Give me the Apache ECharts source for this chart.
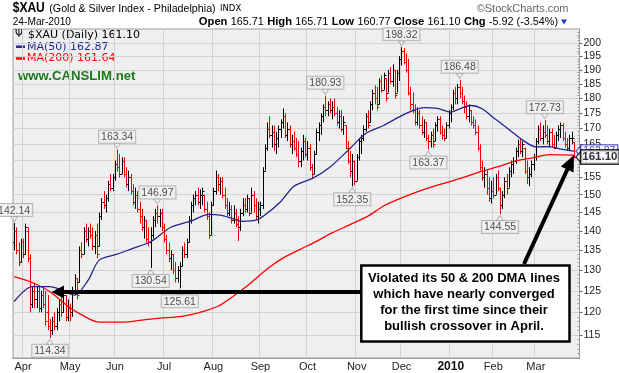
<!DOCTYPE html>
<html><head><meta charset="utf-8">
<script src="https://cdn.jsdelivr.net/npm/echarts@6/dist/echarts.min.js"></script>
<style>html,body{margin:0;padding:0;background:#fff}#c{width:619px;height:373px}</style>
</head><body><div id="c"></div>
<script>
// ---- data ----
const opens = [
137,140,135,132,137,134,140,133,122,125,
123,125,121,124,122,120,117,116,118,117,
120,122,120,124,119,121,120,125,128,127,
135,134,140,138,140,139,136,139,136,144,
148,147,149,153,152,155,159,158,156,160,
156,153,155,151,148,150,146,144,141,143,
138,137,139,143,145,144,145,141,138,135,
133,134,130,128,130,131,135,134,137,143,
147,149,150,148,150,150,146,144,139,147,
151,155,153,154,150,147,145,146,143,145,
142,141,145,147,146,149,145,150,147,144,
146,147,157,164,170,168,169,165,167,170,
172,174,168,170,165,166,164,162,160,163,
166,162,164,158,156,162,169,171,174,177,
176,178,176,177,175,172,174,170,171,164,
160,157,160,154,161,166,167,170,174,172,
178,182,180,178,186,183,187,182,189,186,
190,182,189,194,197,193,190,182,178,176,
172,175,171,169,172,167,166,168,166,171,
173,169,168,167,171,175,177,182,180,184,
182,179,177,174,176,172,171,169,164,158,
155,156,152,149,151,150,155,152,147,150,
154,152,157,159,160,163,165,163,164,157,
155,156,159,161,166,170,167,169,168,166,
169,165,164,168,170,171,167,165,164,167,
165.71];
const highs = [
142.14,141,137,138,138,142,141,134,126,127,
126,126,125,126,125,124,118.5,119,120,121,
123,124,125,124,123,122,126,129,128,136,
137,141,142,141,142,141,140,142,145,149,
151,150,154,156,156,160,163.34,162,161,161,
158,157,156,153,152,151,148,146,144,143,
141,141,144,146,146.97,146,146,142,139,137,
135,134,132,131,132,136,137,138,144,148,
150,151,152,151.5,152,150,148,145,148,152,
157,156,155,155,152,149,148,147,147,146,
144,146,149,149,150,149,152,151,149,148,
148,158,165,172,174,171,171,169,171,173,
176.6,175,172,171,168,169,167,166,164,168,
167,166,165,159,163,170,172,175,178,180.93,
179,180,179,180,177,176,176,174,171,166,
163,162,160,162,167,168,171,175,176,179,
183,184.5,184,187,188,189,187,190,191,192,
190,190,195,198.32,198,196,194,184,182,178,
177,176,174,173,172,168,169,170,172,174,
174,171,170,172,176,178,183,184,185,186.48,
184,181,179,178,176,174,173,171,165,160,
158,157,155,154,155,156,157,152,151,155,
156,158,160,161,164,166.5,167,166,164,160,
158,160,162,167,171,172,171,172.73,171,170,
170,168,169,171,172,171.8,169,167,168,169,
165.71];
const lows = [
135,134,131,132,133,134,132,120,121,121,
121,120,120,121,117,116,114.34,115,116,116,
118,119,120,118,118,118,119,124,123,127,
133,134,137,136,138,135,134,133,136,143,
146,145,148,151,151,154,156.7,155,156,155,
152,151,150,147,146,145,142,140,138,137,
136,130.54,138,141,142,141,140,137,134,132,
130,129,127,127,125.61,131,133,133,137,142,
145,147,147,146,147,145,143,138,139,147,
150,151,150,149,146,144,144,142,142,141,
137.4,140,144,145,145,144,145,145,143,142,
144,146,157,163,167,164,163,162,164,167,
170,167,166,164,162,163,161,158,158,160,
161,160,157,154.6,156,162,166,168,172,174,
174,175,173,174,171,170,169,168,163.5,159,
155,152.35,152.7,154,160,162,166,169,170,172,
176,178,176,178,182,183,179,182,185,184,
180,182,186,191.6,192,189,181,176,175,171,
171,170,168,167,166,163.37,164,164,166,169,
168,166.5,166,167,170,172,176,178,178,180,
178,175,173,172,171,170,168,163,157,154,
152,150,148,147.5,149,150,151,144.55,146,149,
150,152,155,156,159,161,162,161,156,153,
152.4,155,157,160,165,166,165,167,165,164,
164,163.5,164,166,167,166,164,163,163,165,
160.77];
const closes = [
140,135,132,137,134,141,133,122,125,123,
125,121,124,122,118,117,116,118,117,120,
122,120,124,119,121,120,125,128,124,135,
134,140,138,140,139,136,139,134,144,148,
147,149,153,152,155,159,158,156,160,156,
153,155,151,148,150,146,144,141,143,138,
137,139,143,145,144,145,141,138,135,133,
134,130,128,130,131,135,134,137,143,147,
149,150,148,150,151,146,144,139,147,151,
155,153,154,150,147,145,146,143,145,142,
141,145,147,146,149,145,150,147,144,146,
147,157,164,170,168,169,165,167,170,172,
174,168,170,165,166,164,162,160,163,166,
162,164,158,156,162,169,171,174,177,176,
178,176,177,175,172,174,170,172,164,160,
157,160,154,161,166,167,170,174,171,178,
182,180,177,186,183,188,180,189,186,190,
181,189,194,197,193,190,182,178,176,172,
175,171,169,172,167,166,168,165,171,173,
169,168,167,171,175,177,182,180,184,182,
179,177,174,176,172,171,169,164,158,155,
156,152,149,151,150,155,152,147,150,154,
152,157,159,160,163,165,163,165,157,155,
156,159,161,166,170,167,169,168,166,169,
165,164,168,170,171,167,165,164,167,167.02,
161.10];
// moving averages read at points along the lines: [bar index, value]
const ma50 = [[0,122.5],[8,126],[16,126],[22,125],[27,124],[33,127.5],[38,132.5],[46,134],[53,135.5],[61,137.2],[70,141],[79,142.7],[87,144.5],[92,144.3],[97,143.5],[102,142.6],[108,142.9],[112,144.3],[119,148],[125,152.4],[133,154.6],[141,158],[150,163.7],[157,168.4],[165,171],[172,173.8],[178,175.9],[183,176.9],[189,176.6],[195,175.4],[199,176.5],[204,177.6],[209,176.5],[215,173],[221,169.7],[227,166.4],[233,164.2],[239,164.3],[245,163.4],[250,162.87]];
const ma200 = [[0,128.4],[8,127],[16,124.8],[24,121.4],[31,119.2],[38,117.8],[46,117.8],[53,118],[61,118.5],[65,118.7],[75,119.1],[83,120],[91,121.4],[98,123.8],[105,126.6],[113,130.3],[120,133],[128,135.3],[135,137.3],[142,139.5],[150,141.7],[158,144],[165,146.8],[172,148.8],[180,150.8],[187,152.3],[195,153.8],[202,155.3],[209,156.8],[217,158.3],[224,159.9],[232,160.9],[239,161.8],[250,161.64]];
const peakHighs = [[0,142.14],[46,163.34],[64,146.97],[139,180.93],[173,198.32],[199,186.48],[237,172.73]];
const peakLows = [[16,114.34],[61,130.54],[74,125.61],[151,152.35],[185,163.37],[217,144.55]];
const yTicks = [115,120,125,130,135,140,145,150,155,160,165,170,175,180,185,190,195,200];
const yMinPrice = 110.07, yMaxPrice = 205.3;
const holidays = ['2009-04-10','2009-05-25','2009-07-03','2009-09-07','2009-11-26','2009-12-25','2010-01-01','2010-01-18','2010-02-15'];
const monthNames = ['Jan','Feb','Mar','Apr','May','Jun','Jul','Aug','Sep','Oct','Nov','Dec'];
const lastClose = 161.10, lastMA50 = 162.87;

// ---- trading-day categories ----
const dates = [];
for (let t = Date.UTC(2009,2,26); t <= Date.UTC(2010,2,24); t += 86400000) {
  const d = new Date(t), wd = d.getUTCDay(), s = d.toISOString().slice(0,10);
  if (wd !== 0 && wd !== 6 && !holidays.includes(s)) dates.push(s);
}
const cats = dates.concat(['', '']);
const monthStart = new Set();
for (let i = 1; i < dates.length; i++) if (dates[i].slice(0,7) !== dates[i-1].slice(0,7)) monthStart.add(i);
const L = Math.log;
const barData = closes.map((c, i) => [i, L(opens[i]), L(highs[i]), L(lows[i]), L(c), (i === 0 ? c >= opens[i] : c >= closes[i-1]) ? 1 : 0]);
const minorTicks = [];
for (let v = 111; v <= 205; v++) if (v % 5) minorTicks.push(L(v));

const chart = echarts.init(document.getElementById('c'), null, {renderer: 'canvas'});
const FF = 'Liberation Sans, Arial, sans-serif';
const peakLabel = {show: true, formatter: p => p.value[2], fontSize: 10.5, fontFamily: FF, color: '#222',
  backgroundColor: '#f2f2f2', borderColor: '#a8a8a8', borderWidth: 1, padding: [1, 2, 0, 2], distance: 0};
const tagSymbol = 'path://M0,5 L6,0 L6,10 Z';
chart.setOption({
  animation: false,
  backgroundColor: '#fff',
  grid: {left: 13, right: 39.5, top: 29, bottom: 15, show: true, backgroundColor: '#efefef', borderColor: '#9a9a9a', borderWidth: 1},
  xAxis: {type: 'category', data: cats, boundaryGap: true,
    axisLine: {show: true, lineStyle: {color: '#9a9a9a'}}, axisTick: {show: false},
    axisLabel: {interval: (i) => monthStart.has(i), margin: 3, fontSize: 11, fontFamily: FF, color: '#222',
      formatter: v => { const m = +v.slice(5,7); return m === 1 ? '{y|' + v.slice(0,4) + '}' : monthNames[m-1]; },
      rich: {y: {fontWeight: 'bold', fontSize: 12, fontFamily: FF, color: '#111'}}},
    splitLine: {show: true, interval: (i) => monthStart.has(i), lineStyle: {color: '#d2d2d2', width: 1}}},
  yAxis: [{type: 'value', position: 'right', min: L(yMinPrice), max: L(yMaxPrice),
    axisLine: {show: true, lineStyle: {color: '#9a9a9a'}},
    axisTick: {show: true, customValues: yTicks.map(L), length: 3, lineStyle: {color: '#666'}},
    axisLabel: {customValues: yTicks.map(L), formatter: v => String(Math.round(Math.exp(v))), margin: 4, fontSize: 10.5, fontFamily: FF, color: '#222'},
    splitLine: {show: true, lineStyle: {color: '#d2d2d2', width: 1}}},
   {type: 'value', position: 'right', min: L(yMinPrice), max: L(yMaxPrice),
    axisLine: {show: false}, axisLabel: {show: false}, splitLine: {show: false},
    axisTick: {show: true, inside: true, customValues: minorTicks, length: 2, lineStyle: {color: '#999'}}}],
  series: [
    {type: 'custom', clip: true, data: barData, encode: {x: 0, y: [1,2,3,4]},
      renderItem: (params, api) => {
        const i = api.value(0);
        const pH = api.coord([i, api.value(2)]), pL = api.coord([i, api.value(3)]);
        const yO = Math.round(api.coord([i, api.value(1)])[1]) + 0.5, yC = Math.round(api.coord([i, api.value(4)])[1]) + 0.5;
        const x = Math.round(pH[0]) + 0.5;
        const col = api.value(5) ? '#000000' : '#f00000';
        const st = {stroke: col, lineWidth: 1};
        return {type: 'group', children: [
          {type: 'line', shape: {x1: x, y1: pH[1], x2: x, y2: pL[1]}, style: st},
          {type: 'line', shape: {x1: x - 2, y1: yO, x2: x, y2: yO}, style: st},
          {type: 'line', shape: {x1: x, y1: yC, x2: x + 2, y2: yC}, style: st}]};
      }},
    {type: 'line', data: ma200.map(([i, v]) => [i, L(v)]), smooth: 0.3, showSymbol: false, lineStyle: {color: '#ff0000', width: 1.3}, z: 3},
    {type: 'line', data: ma50.map(([i, v]) => [i, L(v)]), smooth: 0.3, showSymbol: false, lineStyle: {color: '#23238e', width: 1.3}, z: 3},
    {type: 'scatter', data: peakHighs.map(([i, v]) => [i, L(v), v.toFixed(2)]), symbol: 'path://M0,0 L10,0 L5,7 Z', symbolSize: [7, 5], symbolOffset: [0, -4],
      itemStyle: {color: '#f2f2f2', borderColor: '#a8a8a8', borderWidth: 1}, label: Object.assign({position: 'top'}, peakLabel), z: 5},
    {type: 'scatter', data: peakLows.map(([i, v]) => [i, L(v), v.toFixed(2)]), symbol: 'path://M0,7 L10,7 L5,0 Z', symbolSize: [7, 5], symbolOffset: [0, 4],
      itemStyle: {color: '#f2f2f2', borderColor: '#a8a8a8', borderWidth: 1}, label: Object.assign({position: 'bottom'}, peakLabel), z: 5},
    {type: 'scatter', clip: false, data: [[252, L(lastMA50), lastMA50.toFixed(2)]], symbol: tagSymbol, symbolSize: [5, 10], z: 6,
      itemStyle: {color: '#fff', borderColor: '#2222aa', borderWidth: 1},
      label: {show: true, position: 'right', distance: 0, formatter: p => p.value[2], fontSize: 10.5, fontFamily: FF, color: '#2222aa',
        backgroundColor: '#fff', borderColor: '#2222aa', borderWidth: 1, padding: [1, 2, 0, 2]}},
    {type: 'scatter', clip: false, data: [[252, L(lastClose), lastClose.toFixed(2)]], symbol: tagSymbol, symbolSize: [5, 11], z: 7,
      itemStyle: {color: '#fff', borderColor: '#000', borderWidth: 1.2},
      label: {show: true, position: 'right', distance: 0, formatter: p => p.value[2], fontSize: 11.5, fontWeight: 'bold', fontFamily: FF, color: '#000',
        backgroundColor: '#fff', borderColor: '#000', borderWidth: 1.5, padding: [1, 1, 0, 1]}}
  ],
  graphic: [
    {type: 'text', x: 12.7, y: 8.5, style: {text: '$XAU', fontFamily: FF, fontWeight: 'bold', fontSize: 14, fill: '#000', verticalAlign: 'middle'}, scaleX: 0.86},
    {type: 'text', x: 49.3, y: 9, style: {text: '(Gold & Silver Index - Philadelphia)', fontFamily: FF, fontSize: 10.7, fill: '#000', verticalAlign: 'middle'}},
    {type: 'text', x: 220, y: 9, style: {text: 'INDX', fontFamily: 'DejaVu Sans', fontSize: 8.5, fill: '#000', verticalAlign: 'middle'}},
    {type: 'text', x: 568.5, y: 8.5, style: {text: '\u00A9StockCharts.com', fontFamily: FF, fontSize: 11, fill: '#666', align: 'right', verticalAlign: 'middle'}},
    {type: 'text', x: 12.7, y: 22, style: {text: '24-Mar-2010', fontFamily: FF, fontSize: 10.2, fill: '#000', verticalAlign: 'middle'}},
    {type: 'text', x: 558, y: 22, style: {text: '{b|Open} {n|165.71} {b|High} {n|165.71} {b|Low} {n|160.77} {b|Close} {n|161.10} {b|Chg} {n|-5.92 (-3.54%)}', align: 'right', verticalAlign: 'middle', rich: {
      b: {fontFamily: FF, fontWeight: 'bold', fontSize: 11.2, fill: '#000'}, n: {fontFamily: FF, fontSize: 10.8, fill: '#000'}}}},
    {type: 'polygon', shape: {points: [[561, 19.5], [567, 19.5], [564, 24.5]]}, style: {fill: '#1a3acc'}},
    // legend inside plot (drawn on its own background)
    {type: 'rect', shape: {x: 14, y: 30, width: 130, height: 56}, style: {fill: '#efefef'}},
    {type: 'text', x: 15, y: 34.7, style: {text: '\u03A8', fontFamily: 'DejaVu Sans', fontSize: 10, fill: '#000', verticalAlign: 'middle'}},
    {type: 'text', x: 28, y: 34.7, style: {text: '$XAU (Daily) 161.10', fontFamily: 'DejaVu Sans', fontSize: 11, fill: '#000', verticalAlign: 'middle'}},
    {type: 'line', shape: {x1: 16, y1: 46.7, x2: 25, y2: 46.7}, style: {stroke: '#23238e', lineWidth: 2.5}},
    {type: 'text', x: 27, y: 46.7, style: {text: 'MA(50) 162.87', fontFamily: 'DejaVu Sans', fontSize: 11, fill: '#23238e', verticalAlign: 'middle'}},
    {type: 'line', shape: {x1: 16, y1: 58.5, x2: 25, y2: 58.5}, style: {stroke: '#ff0000', lineWidth: 2.5}},
    {type: 'text', x: 27, y: 58.5, style: {text: 'MA(200) 161.64', fontFamily: 'DejaVu Sans', fontSize: 11, fill: '#ff0000', verticalAlign: 'middle'}},
    {type: 'text', x: 18, y: 76.3, style: {text: 'www.CANSLIM.net', fontFamily: FF, fontWeight: 'bold', fontSize: 13.2, fill: '#1a7a1a', verticalAlign: 'middle'}},
    // annotation arrows and box
    {type: 'line', shape: {x1: 361, y1: 292, x2: 62, y2: 292}, style: {stroke: '#000', lineWidth: 4}, z: 20},
    {type: 'polygon', shape: {points: [[51.5, 292], [64, 285.5], [64, 298.5]]}, style: {fill: '#000'}, z: 20},
    {type: 'line', shape: {x1: 524, y1: 264, x2: 568, y2: 168}, style: {stroke: '#000', lineWidth: 4}, z: 20},
    {type: 'polygon', shape: {points: [[574, 155], [573.6, 172.4], [560.9, 166.6]]}, style: {fill: '#000'}, z: 20},
    {type: 'rect', shape: {x: 361.3, y: 265.5, width: 208.2, height: 76}, style: {fill: '#fff', stroke: '#000', lineWidth: 2.5}, z: 21},
    {type: 'text', x: 464, y: 302.5, z: 22, style: {text: 'Violated its 50 & 200 DMA lines\nwhich have nearly converged\nfor the first time since their\nbullish crossover in April.',
      fontFamily: FF, fontWeight: 'bold', fontSize: 13, lineHeight: 16, fill: '#000', align: 'center', verticalAlign: 'middle'}}
  ]
});
</script></body></html>
